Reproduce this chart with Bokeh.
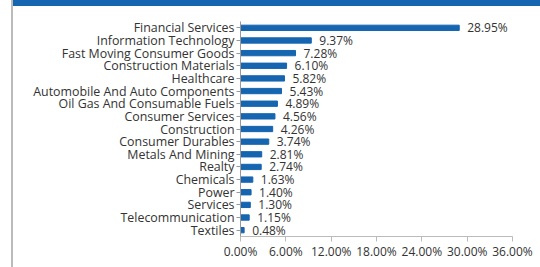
from bokeh.plotting import figure
from bokeh.models import Range1d, FactorRange, ColumnDataSource, FixedTicker, CustomJSTickFormatter
from bokeh.core.properties import value
from bokeh.embed import file_html
from bokeh.resources import INLINE

categories = ["Financial Services", "Information Technology", "Fast Moving Consumer Goods",
              "Construction Materials", "Healthcare", "Automobile And Auto Components",
              "Oil Gas And Consumable Fuels", "Consumer Services", "Construction",
              "Consumer Durables", "Metals And Mining", "Realty", "Chemicals", "Power",
              "Services", "Telecommunication", "Textiles"]
weights = [28.95, 9.37, 7.28, 6.10, 5.82, 5.43, 4.89, 4.56, 4.26, 3.74, 2.81, 2.74,
           1.63, 1.40, 1.30, 1.15, 0.48]
x_ticks = [0, 6, 12, 18, 24, 30, 36]

labels = ["%.2f%%" % w for w in weights]
src = ColumnDataSource(dict(cat=categories, w=weights, lab=labels))

FONT = "Open Sans"
TXT = "#333333"
BAR = "#1565b0"

p = figure(width=540, height=267, y_range=FactorRange(*reversed(categories)),
           x_range=Range1d(0, 36), output_backend="svg", toolbar_location=None,
           min_border_left=240, min_border_right=28, min_border_top=21, min_border_bottom=31)
p.outline_line_color = None
p.background_fill_color = None
p.border_fill_color = None
p.xgrid.visible = False
p.ygrid.visible = False
p.styles = {
    "background-image": "linear-gradient(#1565b0, #1565b0), linear-gradient(#bbbbbb, #bbbbbb)",
    "background-size": "527px 6px, 2px 100%",
    "background-position": "13px 0px, 11px 0px",
    "background-repeat": "no-repeat",
    "background-color": "white",
}

p.hbar(y="cat", right="w", left=0, height=0.42, color=BAR, source=src)
p.text(x="w", y="cat", text="lab", source=src, x_offset=8, text_baseline="middle",
       text_align="left", text_font=value(FONT), text_font_size="12px", text_color=TXT)

p.xaxis.ticker = FixedTicker(ticks=x_ticks)
p.xaxis.formatter = CustomJSTickFormatter(code="return tick.toFixed(2) + '%';")
p.xaxis.axis_line_color = "#bbbbbb"
p.xaxis.major_tick_line_color = "#bbbbbb"
p.xaxis.major_tick_out = 5
p.xaxis.major_tick_in = 0
p.xaxis.minor_tick_line_color = None
p.xaxis.major_label_text_font = FONT
p.xaxis.major_label_text_font_size = "12px"
p.xaxis.major_label_text_color = TXT
p.xaxis.major_label_standoff = 1

p.yaxis.axis_line_color = "#999999"
p.yaxis.major_tick_line_color = "#999999"
p.yaxis.major_tick_out = 4
p.yaxis.major_tick_in = 0
p.yaxis.major_label_text_font = FONT
p.yaxis.major_label_text_font_size = "12.4px"
p.yaxis.major_label_text_color = TXT
p.yaxis.major_label_standoff = 2

open("out.html", "w").write(file_html(p, INLINE))
